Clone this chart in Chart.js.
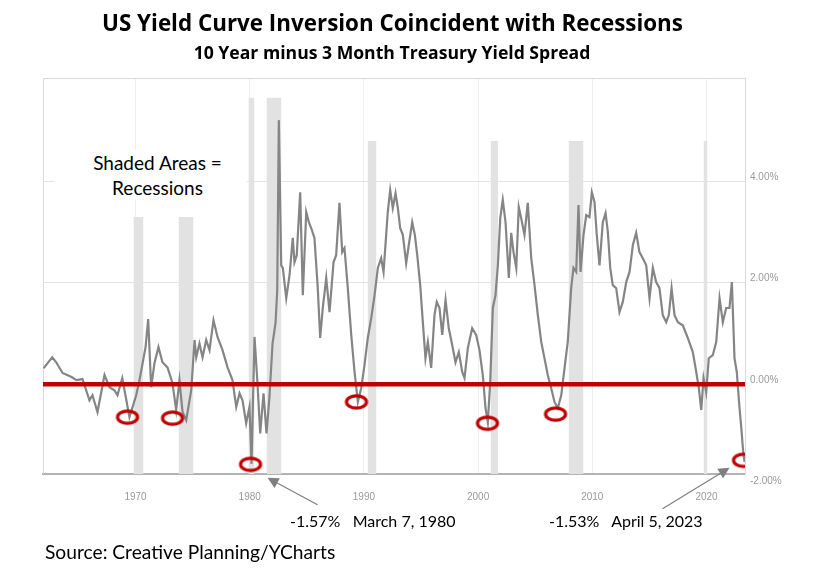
<!DOCTYPE html>
<html>
<head>
<meta charset="utf-8">
<script src="https://cdn.jsdelivr.net/npm/chart.js@4.4.1/dist/chart.umd.min.js"></script>
<style>
  html, body { margin: 0; padding: 0; background: #fff; }
  #wrap { position: relative; width: 822px; height: 577px; overflow: hidden; font-family: Lato, 'Open Sans', sans-serif; color: #000; }
  #chart { position: absolute; left: 0; top: 0; }
  .txt { position: absolute; white-space: nowrap; line-height: 1; }
  #title { left: 0; width: 785px; top: 12px; text-align: center; font-family: 'Open Sans', sans-serif; font-weight: bold; font-size: 22.4px; }
  #subtitle { left: 0; width: 784px; top: 44px; text-align: center; font-family: 'Open Sans', sans-serif; font-weight: bold; font-size: 17.6px; }
  #shaded { box-sizing: border-box; left: 54px; width: 193px; padding-left: 14px; top: 150px; height: 50px; background: #fff; text-align: center; font-size: 19px; line-height: 25px; }
  .note { top: 513px; font-size: 16px; }
  #note1980 { left: 290px; }
  #note2023 { left: 549px; }
  #source { left: 45px; top: 542px; font-size: 19.2px; }
</style>
</head>
<body>
<div id="wrap">
  <canvas id="chart" width="822" height="577"></canvas>
  <div id="title" class="txt">US Yield Curve Inversion Coincident with Recessions</div>
  <div id="subtitle" class="txt">10 Year minus 3 Month Treasury Yield Spread</div>
  <div id="shaded" class="txt">Shaded Areas =<br>Recessions</div>
  <div id="note1980" class="txt note">-1.57%&nbsp;&nbsp; March 7, 1980</div>
  <div id="note2023" class="txt note">-1.53%&nbsp;&nbsp; April 5, 2023</div>
  <div id="source" class="txt">Source: Creative Planning/YCharts</div>
</div>
<script>
// 10y - 3m spread (decimal years, percent)
const spreadYears = [
  1961.94, 1962.71, 1963.06, 1963.61, 1964.40, 1964.83, 1965.36, 1965.97, 1966.23, 1966.67,
  1967.29, 1967.72, 1968.16, 1968.42, 1968.84, 1969.12, 1969.47, 1970.06, 1970.35, 1970.88,
  1971.11, 1971.37, 1971.66, 1972.01, 1972.36, 1972.80, 1973.24, 1973.56, 1973.85, 1974.12,
  1974.44, 1974.88, 1975.17, 1975.32, 1975.60, 1975.87, 1976.19, 1976.48, 1976.83, 1977.18,
  1977.62, 1978.06, 1978.49, 1978.82, 1979.11, 1979.37, 1979.69, 1979.98, 1980.16, 1980.42,
  1980.68, 1980.92, 1981.21, 1981.47, 1981.73, 1982.00, 1982.26, 1982.41, 1982.55, 1982.76,
  1982.90, 1983.20, 1983.49, 1983.77, 1983.92, 1984.12, 1984.42, 1984.65, 1984.95, 1985.18,
  1985.39, 1985.67, 1985.96, 1986.17, 1986.40, 1986.70, 1986.99, 1987.34, 1987.57, 1987.86,
  1988.10, 1988.30, 1988.59, 1988.89, 1989.18, 1989.47, 1989.76, 1990.05, 1990.34, 1990.64,
  1990.93, 1991.22, 1991.51, 1991.72, 1991.95, 1992.09, 1992.30, 1992.53, 1992.77, 1992.97,
  1993.18, 1993.41, 1993.70, 1993.93, 1994.23, 1994.46, 1994.67, 1994.93, 1995.16, 1995.39,
  1995.60, 1995.89, 1996.18, 1996.38, 1996.62, 1996.86, 1997.15, 1997.43, 1997.73, 1998.02,
  1998.31, 1998.61, 1998.81, 1999.10, 1999.48, 1999.83, 2000.12, 2000.41, 2000.65, 2000.85,
  2001.06, 2001.29, 2001.52, 2001.73, 2001.94, 2002.16, 2002.40, 2002.69, 2002.90, 2003.10,
  2003.34, 2003.56, 2003.77, 2004.06, 2004.35, 2004.65, 2004.94, 2005.23, 2005.53, 2005.81,
  2006.10, 2006.40, 2006.69, 2006.98, 2007.28, 2007.57, 2007.85, 2008.15, 2008.35, 2008.59,
  2008.79, 2008.97, 2009.23, 2009.47, 2009.75, 2009.96, 2010.19, 2010.39, 2010.63, 2010.92,
  2011.16, 2011.36, 2011.57, 2011.79, 2012.09, 2012.38, 2012.67, 2012.97, 2013.26, 2013.55,
  2013.84, 2014.13, 2014.42, 2014.72, 2015.01, 2015.30, 2015.59, 2015.88, 2016.17, 2016.47,
  2016.70, 2016.94, 2017.20, 2017.49, 2017.92, 2018.36, 2018.80, 2019.10, 2019.33, 2019.54,
  2019.74, 2019.97, 2020.20, 2020.55, 2020.85, 2021.14, 2021.43, 2021.72, 2022.01, 2022.22,
  2022.45, 2022.65, 2022.89, 2023.05, 2023.22, 2023.33
];
const spreadValues = [
  0.31, 0.53, 0.43, 0.22, 0.14, 0.08, 0.10, -0.32, -0.22, -0.55,
  0.18, -0.06, -0.12, -0.22, 0.12, -0.22, -0.65, -0.22, 0.08, 0.73,
  1.28, -0.06, 0.41, 0.73, 0.43, 0.33, 0.02, -0.51, 0.08, -0.55,
  -0.71, -0.12, 0.87, 0.53, 0.80, 0.53, 0.87, 0.67, 1.26, 0.93,
  0.67, 0.33, 0.08, -0.45, -0.18, -0.32, -0.77, -0.45, -1.57, 0.93,
  0.02, -0.97, -0.18, -0.97, -0.25, 0.80, 1.20, 1.85, 5.20, 2.34,
  2.29, 1.69, 2.15, 2.88, 2.40, 2.54, 3.78, 1.75, 3.39, 3.19,
  3.07, 2.88, 1.89, 0.91, 1.50, 2.09, 1.42, 2.40, 2.54, 3.57,
  2.60, 2.68, 1.89, 0.97, 0.24, -0.35, -0.08, 0.37, 0.91, 1.30,
  1.75, 2.29, 2.48, 2.21, 2.94, 3.39, 3.82, 3.47, 3.76, 3.47,
  3.07, 2.94, 2.38, 2.74, 3.19, 2.94, 2.54, 1.95, 1.22, 0.51,
  0.83, 0.32, 1.36, 1.62, 1.50, 0.97, 1.66, 1.10, 0.77, 0.43,
  0.63, 0.24, 0.12, 0.71, 1.10, 0.97, 0.67, 0.18, -0.47, -0.75,
  0.04, 1.50, 1.75, 2.34, 3.27, 3.63, 3.19, 2.09, 2.98, 2.60,
  2.29, 3.49, 3.27, 2.94, 3.57, 2.48, 1.95, 1.36, 0.83, 0.51,
  0.18, -0.08, -0.35, -0.47, -0.22, 0.32, 0.83, 1.89, 2.29, 2.21,
  3.53, 2.21, 2.94, 3.33, 3.29, 3.78, 3.59, 2.94, 2.34, 3.19,
  3.37, 3.00, 2.29, 1.95, 1.89, 1.42, 1.62, 2.01, 2.21, 2.74,
  2.98, 2.60, 2.48, 2.34, 1.69, 2.29, 2.01, 1.89, 1.36, 1.22,
  1.36, 1.89, 1.36, 1.22, 1.16, 0.91, 0.63, 0.24, -0.08, -0.51,
  0.12, -0.16, 0.51, 0.57, 0.83, 1.69, 1.22, 1.50, 1.50, 2.01,
  0.51, 0.24, -0.47, -0.87, -1.36, -1.53
];

// recession bands (start, end, height of the grey bar in %)
const recessionStart = [1969.82, 1973.77, 1979.89, 1981.47, 1990.32, 2001.09, 2007.92, 2019.74];
const recessionEnd = [1970.70, 1975.08, 1980.42, 1982.78, 1991.10, 2001.76, 2009.23, 2020.09];
const recessionTop = [3.29, 3.29, 5.64, 5.64, 4.79, 4.79, 4.79, 4.79];

// red rings marking each inversion low
const circleYears = [1969.30, 1973.24, 1980.07, 1989.35, 2000.82, 2006.78, 2023.24];
const circleValues = [-0.65, -0.67, -1.58, -0.35, -0.77, -0.59, -1.50];

const xTickYears = [1970, 1980, 1990, 2000, 2010, 2020];
const yTickValues = [-2, 0, 2, 4];
const xMin = 1961.9;
const xMax = 2023.37;
const yMin = -1.77;
const yMax = 6.03;

const RED = '#c00000';

function ringImage() {
  const c = document.createElement('canvas');
  c.width = 26;
  c.height = 18;
  const g = c.getContext('2d');
  g.strokeStyle = RED;
  g.lineWidth = 3.2;
  g.beginPath();
  g.ellipse(13, 9, 10, 6.2, 0, 0, Math.PI * 2);
  g.stroke();
  return c;
}

// arrows anchored on the two annotated lows, offsets in px
const arrowNotes = [
  { x: 1980.16, y: -1.57, tip: [16, 14], tail: [66, 41] },
  { x: 2023.33, y: -1.53, tip: [-15, 6], tail: [-82, 47] }
];

const framePlugin = {
  id: 'frame',
  beforeDatasetsDraw(chart) {
    const { ctx, chartArea: a } = chart;
    ctx.save();
    ctx.strokeStyle = '#d9d9d9';
    ctx.lineWidth = 1;
    ctx.beginPath();
    ctx.moveTo(a.left + 0.5, a.bottom);
    ctx.lineTo(a.left + 0.5, a.top + 0.5);
    ctx.lineTo(a.right, a.top + 0.5);
    ctx.stroke();
    ctx.restore();
  },
  afterDraw(chart) {
    const { ctx } = chart;
    const xs = chart.scales.x;
    const ys = chart.scales.y;
    ctx.save();
    ctx.strokeStyle = '#7f7f7f';
    ctx.fillStyle = '#7f7f7f';
    ctx.lineWidth = 1.2;
    arrowNotes.forEach((n) => {
      const px = xs.getPixelForValue(n.x);
      const py = ys.getPixelForValue(n.y);
      const tx = px + n.tip[0], ty = py + n.tip[1];
      const sx = px + n.tail[0], sy = py + n.tail[1];
      const ang = Math.atan2(ty - sy, tx - sx);
      const len = 11, half = 5.5;
      const bx = tx - len * Math.cos(ang), by = ty - len * Math.sin(ang);
      ctx.beginPath();
      ctx.moveTo(sx, sy);
      ctx.lineTo(bx, by);
      ctx.stroke();
      ctx.beginPath();
      ctx.moveTo(tx, ty);
      ctx.lineTo(bx + half * Math.sin(ang), by - half * Math.cos(ang));
      ctx.lineTo(bx - half * Math.sin(ang), by + half * Math.cos(ang));
      ctx.closePath();
      ctx.fill();
    });
    ctx.restore();
  }
};

const recessionSets = recessionStart.map((start, i) => ({
  type: 'line',
  data: [{ x: start, y: recessionTop[i] }, { x: recessionEnd[i], y: recessionTop[i] }],
  borderWidth: 0,
  pointRadius: 0,
  backgroundColor: '#e2e2e2',
  fill: 'start',
  order: 10
}));

new Chart(document.getElementById('chart'), {
  type: 'line',
  data: {
    datasets: [
      ...recessionSets,
      {
        data: spreadYears.map((x, i) => ({ x, y: spreadValues[i] })),
        borderColor: '#858585',
        borderWidth: 2.2,
        pointRadius: 0,
        tension: 0,
        order: 5
      },
      {
        data: [{ x: xMin, y: 0 }, { x: xMax, y: 0 }],
        borderColor: RED,
        borderWidth: 4.5,
        pointRadius: 0,
        order: 2
      },
      {
        type: 'scatter',
        data: circleYears.map((x, i) => ({ x, y: circleValues[i] })),
        pointStyle: ringImage(),
        pointRadius: 10,
        order: 1
      }
    ]
  },
  options: {
    responsive: false,
    animation: false,
    devicePixelRatio: 1,
    layout: { padding: { left: 43, top: 78, right: 0, bottom: 0 } },
    plugins: { legend: { display: false }, tooltip: { enabled: false } },
    scales: {
      x: {
        type: 'linear',
        min: xMin,
        max: xMax,
        afterBuildTicks: (axis) => { axis.ticks = xTickYears.map((v) => ({ value: v })); },
        afterFit: (axis) => { axis.height = 103; },
        grid: { color: '#efefef', drawTicks: false },
        border: { color: '#b3b3b3', width: 2 },
        ticks: {
          padding: 17,
          color: '#9a9a9a',
          font: { family: 'Liberation Sans', size: 10 },
          maxRotation: 0,
          callback: (v) => String(v)
        }
      },
      y: {
        position: 'right',
        min: yMin,
        max: yMax,
        afterBuildTicks: (axis) => { axis.ticks = yTickValues.map((v) => ({ value: v })); },
        afterFit: (axis) => { axis.width = 77; },
        grid: {
          drawTicks: false,
          color: (c) => (c.tick && (c.tick.value === 2 || c.tick.value === 4) ? '#e3e3e3' : 'rgba(0,0,0,0)')
        },
        border: { color: '#d9d9d9', width: 1 },
        ticks: {
          padding: 5,
          labelOffset: -4,
          color: '#9a9a9a',
          font: { family: 'Liberation Sans Narrow, Liberation Sans', size: 10 },
          callback: (v) => v.toFixed(2) + '%'
        }
      }
    }
  },
  plugins: [framePlugin]
});
</script>
</body>
</html>
